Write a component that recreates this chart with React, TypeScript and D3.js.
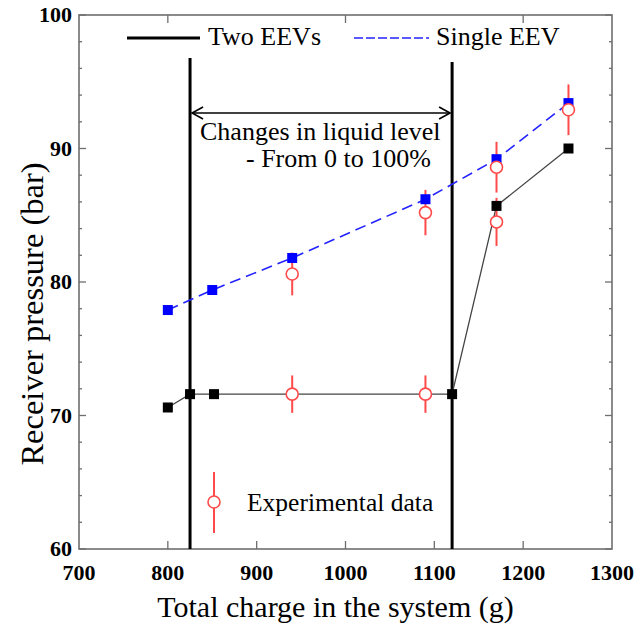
import React from "react";
import * as d3 from "d3";

// 두 개의 EEV (검은 사각형, 실선)
const twoCharge = [800, 825, 852, 1120, 1170, 1251];
const twoPressure = [70.6, 71.6, 71.6, 71.6, 85.7, 90.0];

// 단일 EEV (파란 사각형, 점선)
const singleCharge = [800, 850, 940, 1090, 1170, 1251];
const singlePressure = [77.9, 79.4, 81.8, 86.2, 89.2, 93.4];

// 실험값 (빨간 원 + 오차막대)
const expCharge = [940, 1090, 1170, 1251, 940, 1090, 1170];
const expPressure = [80.6, 85.2, 88.6, 92.9, 71.6, 71.6, 84.5];
const expError = [1.6, 1.7, 1.9, 1.9, 1.4, 1.4, 1.8];

// 액위 변화 구간 경계
const levelBounds = [825, 1120];

const xTicks = [700, 800, 900, 1000, 1100, 1200, 1300];
const xTopTicks = [800, 1000, 1200];
const yTicks = [60, 70, 80, 90, 100];
const yMinor = d3.range(60, 100.01, 2);

const W = 637;
const H = 630;
const left = 79, right = 612, top = 15, bottom = 549;

const serif = "'Liberation Serif', 'DejaVu Serif', serif";

function App() {
    const x = d3.scaleLinear().domain([700, 1300]).range([left, right]);
    const y = d3.scaleLinear().domain([60, 100]).range([bottom, top]);

    const line = d3.line<[number, number]>().x((v) => x(v[0])).y((v) => y(v[1]));
    const twoPts = twoCharge.map((c, i) => [c, twoPressure[i]] as [number, number]);
    const singlePts = singleCharge.map((c, i) => [c, singlePressure[i]] as [number, number]);

    const sq = 10;
    const red = "#ff4a4a";
    const arrowY = 113;

    return (
        <svg width={W} height={H} style={{ position: "absolute", left: 0, top: 0, fontFamily: serif }}>
            <rect width={W} height={H} fill="white" />

            {/* 프레임 */}
            <rect x={left} y={top} width={right - left} height={bottom - top} fill="none" stroke="#6e6e6e" strokeWidth={1.6} />

            {/* x 눈금 */}
            {xTicks.slice(1, -1).map((t) => (
                <line key={"xb" + t} x1={x(t)} x2={x(t)} y1={bottom} y2={bottom - 8} stroke="#6e6e6e" strokeWidth={1.3} />
            ))}
            {xTopTicks.map((t) => (
                <line key={"xt" + t} x1={x(t)} x2={x(t)} y1={top} y2={top + 8} stroke="#6e6e6e" strokeWidth={1.3} />
            ))}
            {xTicks.map((t) => (
                <text key={"xl" + t} x={x(t)} y={580} textAnchor="middle" fontSize={22} fontWeight="bold">{t}</text>
            ))}

            {/* y 눈금 */}
            {yMinor.map((t) => {
                const major = t % 10 === 0;
                const len = major ? 7 : 3;
                return (
                    <g key={"ym" + t}>
                        <line x1={left} x2={left + len} y1={y(t)} y2={y(t)} stroke="#6e6e6e" strokeWidth={1.3} />
                        <line x1={right} x2={right - len} y1={y(t)} y2={y(t)} stroke="#6e6e6e" strokeWidth={1.3} />
                    </g>
                );
            })}
            {yTicks.map((t) => (
                <text key={"yl" + t} x={72} y={y(t) + 7} textAnchor="end" fontSize={22} fontWeight="bold">{t}</text>
            ))}

            {/* 축 제목 */}
            <text x={(left + right) / 2 - 10} y={617} textAnchor="middle" fontSize={30}>Total charge in the system (g)</text>
            <text transform={`translate(43, 314) rotate(-90)`} textAnchor="middle" fontSize={32.5}>Receiver pressure (bar)</text>

            {/* 구간 경계선 */}
            {levelBounds.map((b, i) => (
                <line key={"b" + b} x1={x(b)} x2={x(b)} y1={i === 0 ? 58 : 62} y2={bottom} stroke="black" strokeWidth={3} />
            ))}

            {/* 양방향 화살표 */}
            <line x1={x(levelBounds[0]) + 2} x2={x(levelBounds[1]) - 2} y1={arrowY} y2={arrowY} stroke="black" strokeWidth={1.6} />
            <path d={`M${x(levelBounds[0]) + 13},${arrowY - 6} L${x(levelBounds[0]) + 2},${arrowY} L${x(levelBounds[0]) + 13},${arrowY + 6}`} fill="none" stroke="black" strokeWidth={1.6} />
            <path d={`M${x(levelBounds[1]) - 13},${arrowY - 6} L${x(levelBounds[1]) - 2},${arrowY} L${x(levelBounds[1]) - 13},${arrowY + 6}`} fill="none" stroke="black" strokeWidth={1.6} />
            <text x={200} y={140} fontSize={26}>Changes in liquid level</text>
            <text x={246} y={167} fontSize={26}>- From 0 to 100%</text>

            {/* 시리즈 선 */}
            <path d={line(twoPts) ?? ""} fill="none" stroke="#444" strokeWidth={1.3} />
            <path d={line(singlePts) ?? ""} fill="none" stroke="#2323ff" strokeWidth={1.6} strokeDasharray="11 6" />

            {/* 오차막대 */}
            {expCharge.map((c, i) => (
                <line key={"e" + i} x1={x(c)} x2={x(c)} y1={y(expPressure[i] - expError[i])} y2={y(expPressure[i] + expError[i])} stroke={red} strokeWidth={2} />
            ))}

            {/* 사각형 마커 */}
            {twoPts.map((p, i) => (
                <rect key={"ts" + i} x={x(p[0]) - sq / 2} y={y(p[1]) - sq / 2} width={sq} height={sq} fill="black" />
            ))}
            {singlePts.map((p, i) => (
                <rect key={"ss" + i} x={x(p[0]) - sq / 2} y={y(p[1]) - sq / 2} width={sq} height={sq} fill="#0000ff" />
            ))}

            {expCharge.map((c, i) => (
                <circle key={"c" + i} cx={x(c)} cy={y(expPressure[i])} r={6} fill="white" stroke={red} strokeWidth={1.6} />
            ))}

            {/* 범례 */}
            <line x1={127} x2={200} y1={38} y2={38} stroke="black" strokeWidth={3} />
            <text x={208} y={45} fontSize={26}>Two EEVs</text>
            <line x1={354} x2={429} y1={38} y2={38} stroke="#2323ff" strokeWidth={1.6} strokeDasharray="9 3" />
            <text x={436} y={45} fontSize={26}>Single EEV</text>

            <line x1={214} x2={214} y1={472} y2={533} stroke={red} strokeWidth={2} />
            <circle cx={214} cy={502} r={6} fill="white" stroke={red} strokeWidth={1.6} />
            <text x={247} y={511} fontSize={25.5}>Experimental data</text>
        </svg>
    );
}

export default App;
